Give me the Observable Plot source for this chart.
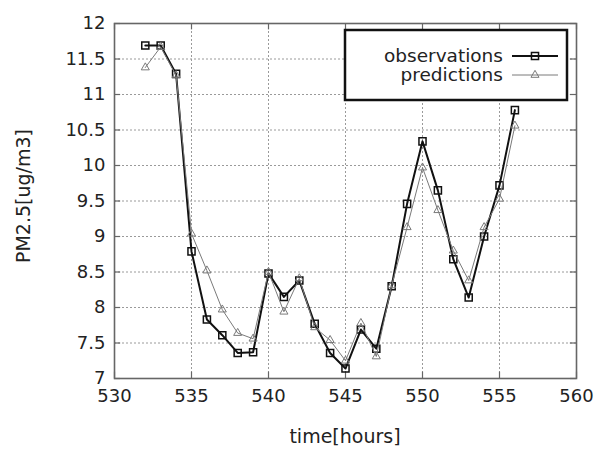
<!DOCTYPE html>
<html>
<head>
<meta charset="utf-8">
<script src="https://cdn.jsdelivr.net/npm/d3@7"></script>
<script src="https://cdn.jsdelivr.net/npm/@observablehq/plot@0.6"></script>
<style>
  html, body { margin: 0; padding: 0; background: #fff; }
  #chart svg { display: block; }
</style>
</head>
<body>
<div id="chart"></div>
<script>
const hours = [532, 533, 534, 535, 536, 537, 538, 539, 540, 541, 542, 543, 544,
               545, 546, 547, 548, 549, 550, 551, 552, 553, 554, 555, 556];
const observations = [11.69, 11.69, 11.29, 8.79, 7.83, 7.61, 7.36, 7.37, 8.48, 8.15, 8.38, 7.77, 7.36,
                      7.14, 7.69, 7.42, 8.30, 9.46, 10.34, 9.65, 8.68, 8.14, 9.00, 9.72, 10.78];
const predictions  = [11.38, 11.67, 11.27, 9.04, 8.52, 7.97, 7.64, 7.56, 8.50, 7.94, 8.41, 7.72, 7.54,
                      7.25, 7.78, 7.31, 8.31, 9.13, 9.97, 9.37, 8.80, 8.38, 9.13, 9.53, 10.56];
const xTicks = [530, 535, 540, 545, 550, 555, 560];
const yTicks = [7, 7.5, 8, 8.5, 9, 9.5, 10, 10.5, 11, 11.5, 12];
const xLabel = "time[hours]";
const yLabel = "PM2.5[ug/m3]";
const seriesNames = ["observations", "predictions"];

const obsData = hours.map((h, i) => ({x: h, y: observations[i]}));
const predData = hours.map((h, i) => ({x: h, y: predictions[i]}));

const gridStyle = {stroke: "#9a9a9a", strokeWidth: 1, strokeDasharray: "2,2"};
const tickStyle = {stroke: "#666", strokeWidth: 1.2};

const chart = Plot.plot({
  width: 597,
  height: 450,
  marginLeft: 114,
  marginRight: 21,
  marginTop: 23,
  marginBottom: 72,
  style: {fontFamily: "DejaVu Sans", fontSize: "18px", color: "#222", background: "#fff"},
  x: {domain: [530, 560]},
  y: {domain: [7, 12]},
  marks: [
    Plot.ruleX(xTicks, gridStyle),
    Plot.ruleY(yTicks, gridStyle),
    Plot.ruleX(xTicks, {y1: 7, y2: 7.09, ...tickStyle}),
    Plot.ruleX(xTicks, {y1: 12, y2: 11.91, ...tickStyle}),
    Plot.ruleY(yTicks, {x1: 530, x2: 530.4, ...tickStyle}),
    Plot.ruleY(yTicks, {x1: 560, x2: 559.6, ...tickStyle}),
    Plot.frame({stroke: "#666", strokeWidth: 1.6}),
    Plot.axisX({ticks: xTicks, tickSize: 0, tickPadding: 11, label: null, tickFormat: d => `${d}`}),
    Plot.axisY({ticks: yTicks, tickSize: 0, tickPadding: 9, label: null, tickFormat: d => `${d}`}),
    Plot.line(obsData, {x: "x", y: "y", stroke: "#111", strokeWidth: 2}),
    Plot.dot(obsData, {x: "x", y: "y", symbol: "square", r: 4, stroke: "#111", strokeWidth: 1.5, fill: "none"}),
    Plot.line(predData, {x: "x", y: "y", stroke: "#7a7a7a", strokeWidth: 1}),
    Plot.dot(predData, {x: "x", y: "y", symbol: "triangle", r: 3, stroke: "#7a7a7a", strokeWidth: 1, fill: "none"})
  ]
});

document.getElementById("chart").appendChild(chart);

const svg = d3.select(chart);
// axis titles
svg.append("text")
  .attr("x", 345).attr("y", 443)
  .attr("text-anchor", "middle")
  .attr("font-family", "DejaVu Sans").attr("font-size", 19).attr("fill", "#222")
  .text(xLabel);
svg.append("text")
  .attr("transform", "translate(30,196) rotate(-90)")
  .attr("text-anchor", "middle")
  .attr("font-family", "DejaVu Sans").attr("font-size", 19).attr("fill", "#222")
  .text(yLabel);

// legend
const lg = svg.append("g");
lg.append("rect").attr("x", 345).attr("y", 30).attr("width", 222).attr("height", 70)
  .attr("fill", "#fff").attr("stroke", "#111").attr("stroke-width", 2.5);
const legendRows = [
  {name: seriesNames[0], y: 56, color: "#111", width: 2, sym: d3.symbolSquare, size: 50, sw: 1.5},
  {name: seriesNames[1], y: 75, color: "#7a7a7a", width: 1, sym: d3.symbolTriangle, size: 28, sw: 1}
];
legendRows.forEach(r => {
  lg.append("text").attr("x", 503).attr("y", r.y + 6)
    .attr("text-anchor", "end")
    .attr("font-family", "DejaVu Sans").attr("font-size", 18.5).attr("fill", "#222")
    .text(r.name);
  lg.append("line").attr("x1", 512).attr("x2", 558).attr("y1", r.y).attr("y2", r.y)
    .attr("stroke", r.color).attr("stroke-width", r.width);
  lg.append("path").attr("d", d3.symbol(r.sym, r.size)())
    .attr("transform", `translate(535,${r.y})`)
    .attr("fill", "none").attr("stroke", r.color).attr("stroke-width", r.sw);
});
</script>
</body>
</html>
